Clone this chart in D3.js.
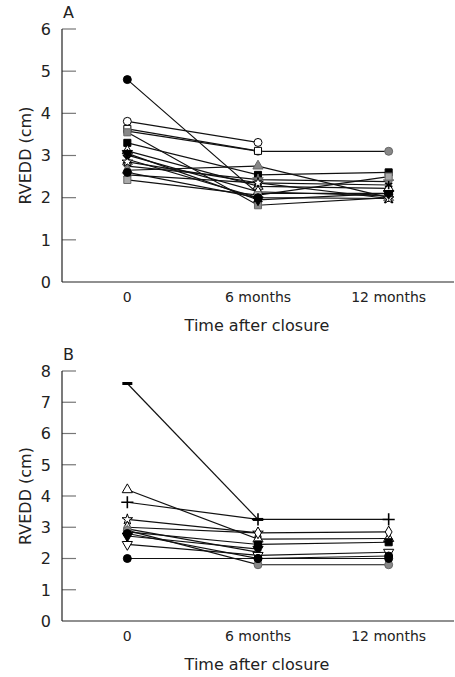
<!DOCTYPE html>
<html><head><meta charset="utf-8">
<script src="https://cdn.jsdelivr.net/npm/d3@7"></script>
<style>body{margin:0;background:#fff}svg{display:block}text{font-family:"DejaVu Sans",sans-serif;fill:#222}</style>
</head><body><svg id="c" width="455" height="677"></svg>
<script>
const categories = ["0", "6 months", "12 months"];
const ticksA = [0,1,2,3,4,5,6];
const ticksB = [0,1,2,3,4,5,6,7,8];
// panel A series: [0, 6 months, 12 months]
const seriesA = [
  {sym:"circle", fill:"#000", v:[4.80, 2.10, 2.10]},
  {sym:"circle", fill:"#fff", v:[3.81, 3.31, null]},
  {sym:"circle", fill:"#888", v:[3.58, 3.10, 3.10]},
  {sym:"square", fill:"#fff", v:[3.63, 3.11, null]},
  {sym:"square", fill:"#888", v:[3.55, 1.82, 2.00]},
  {sym:"square", fill:"#000", v:[3.30, 2.54, 2.60]},
  {sym:"triangle", fill:"#fff", v:[3.11, 2.27, 2.22]},
  {sym:"diamond", fill:"#fff", v:[3.01, 2.14, 2.04]},
  {sym:"times", fill:"#000", v:[2.91, 2.00, 1.98]},
  {sym:"star", fill:"#888", v:[2.75, 2.43, 2.38]},
  {sym:"triangle", fill:"#888", v:[2.65, 2.75, 2.00]},
  {sym:"asterisk", fill:"#000", v:[2.54, 2.35, 2.30]},
  {sym:"square", fill:"#aaa", v:[2.42, 2.06, 2.50]},
  {sym:"star", fill:"#fff", v:[2.85, 2.35, 1.98]},
  {sym:"circle", fill:"#000", v:[2.60, 2.00, null]},
  {sym:"tridown", fill:"#000", v:[3.05, 1.95, 2.10]}
];
// panel B series
const seriesB = [
  {sym:"dash", fill:"#000", v:[7.60, 3.25, null]},
  {sym:"plus", fill:"#000", v:[3.80, 3.25, 3.25]},
  {sym:"triangle", fill:"#fff", v:[4.20, 2.62, 2.64]},
  {sym:"star", fill:"#fff", v:[3.25, 2.82, null]},
  {sym:"diamond", fill:"#fff", v:[3.00, 2.82, 2.85]},
  {sym:"asterisk", fill:"#888", v:[2.95, 2.20, null]},
  {sym:"square", fill:"#000", v:[2.85, 2.45, 2.52]},
  {sym:"tridown", fill:"#000", v:[2.72, 2.30, null]},
  {sym:"tridown", fill:"#fff", v:[2.45, 2.10, 2.20]},
  {sym:"circle", fill:"#888", v:[2.90, 1.80, 1.80]},
  {sym:"circle", fill:"#000", v:[2.80, 2.00, 2.08]},
  {sym:"circle", fill:"#000", v:[2.00, 2.00, 2.00]}
];

const svg = d3.select("#c");
const x = d3.scalePoint().domain(categories).range([62, 454]).padding(0.5);

function marker(g, s, px, py) {
  if (s.sym === "dash") {
    g.append("rect").attr("x", px-5).attr("y", py-1.5).attr("width", 10).attr("height", 3).attr("fill", "#000");
    return;
  }
  const map = {circle:d3.symbolCircle, square:d3.symbolSquare, triangle:d3.symbolTriangle, tridown:d3.symbolTriangle,
    diamond:d3.symbolDiamond, times:d3.symbolTimes, plus:d3.symbolPlus, asterisk:d3.symbolAsterisk, star:d3.symbolStar};
  const sizes = {diamond:40, star:35, triangle:45, tridown:45};
  const lineOnly = ["times","plus","asterisk"].includes(s.sym);
  g.append("path").attr("d", d3.symbol().type(map[s.sym]).size(sizes[s.sym] || 50)())
    .attr("transform", `translate(${px},${py})` + (s.sym==="tridown"?" rotate(180)":""))
    .attr("fill", lineOnly ? "none" : s.fill)
    .attr("stroke", lineOnly ? s.fill : (s.fill==="#888"||s.fill==="#aaa" ? "#666" : "#000"))
    .attr("stroke-width", lineOnly ? 1.6 : 1);
}

function panel(series, ticks, top, bottom, letter, ymax) {
  const y = d3.scaleLinear().domain([0, ymax]).range([bottom, top]);
  const g = svg.append("g");
  g.selectAll(".tk").data(ticks.slice(1)).join("line")
    .attr("x1", 62).attr("x2", 76).attr("y1", d=>y(d)).attr("y2", d=>y(d))
    .attr("stroke", "#777").attr("stroke-width", 1.2);
  g.selectAll(".tl").data(ticks).join("text")
    .attr("x", 51).attr("y", d=>y(d)).attr("dy", "0.36em").attr("text-anchor", "end")
    .attr("font-size", 16).text(d=>d);
  g.append("line").attr("x1", 62).attr("x2", 62).attr("y1", y(ymax)).attr("y2", y(0)).attr("stroke", "#222").attr("stroke-width", 1.2);
  g.append("line").attr("x1", 62).attr("x2", 454).attr("y1", y(0)).attr("y2", y(0)).attr("stroke", "#222").attr("stroke-width", 1.2);
  g.selectAll(".xl").data(categories).join("text")
    .attr("x", d=>x(d)).attr("y", bottom + 20).attr("text-anchor", "middle").attr("font-size", 14).text(d=>d);
  g.append("text").attr("x", 257).attr("y", bottom + 49).attr("text-anchor", "middle").attr("font-size", 16).text("Time after closure");
  g.append("text").attr("transform", `translate(31,${(top+bottom)/2}) rotate(-90)`).attr("text-anchor", "middle")
    .attr("font-size", 16).text("RVEDD (cm)");
  g.append("text").attr("x", 63).attr("y", top - 11).attr("font-size", 16).text(letter);

  const line = d3.line().defined(d=>d[1]!=null).x(d=>x(d[0])).y(d=>y(d[1]));
  series.forEach(s => {
    g.append("path").datum(categories.map((c,i)=>[c, s.v[i]])).attr("d", line)
      .attr("fill", "none").attr("stroke", "#111").attr("stroke-width", 1.2);
  });
  series.forEach(s => {
    categories.forEach((c,i) => { if (s.v[i]!=null) marker(g, s, x(c), y(s.v[i])); });
  });
}
panel(seriesA, ticksA, 29, 282, "A", 6);
panel(seriesB, ticksB, 371, 621, "B", 8);
</script></body></html>
